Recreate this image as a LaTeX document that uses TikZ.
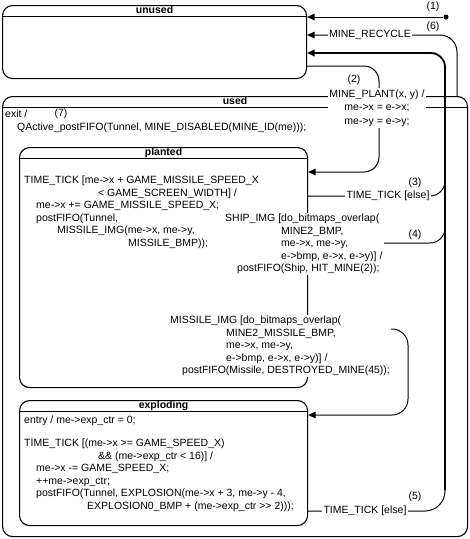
\documentclass[tikz,border=0pt]{standalone}
\usepackage{fontspec}
\setmainfont{Liberation Sans}
\usetikzlibrary{positioning,arrows.meta}

\begin{document}
\begin{tikzpicture}[x=1pt, y=-1pt, font=\fontsize{10.5}{12.5}\selectfont]
        \tikzstyle{state} = [draw, rounded corners=10pt, line width=1.1pt, inner sep=0pt, anchor=north west]
        \tikzstyle{statename} = [font=\fontsize{10.5}{12.5}\selectfont\bfseries, inner ysep=1pt, text height=7.5pt, text depth=2pt]
        \tikzstyle{body} = [anchor=north west, align=left, inner sep=0pt]
        \tikzstyle{tran} = [line width=1pt, rounded corners=15pt, -{Triangle[length=7.5pt, width=6.5pt]}]
        \tikzstyle{branch} = [line width=1pt, rounded corners=15pt]
        \tikzstyle{trig} = [fill=white, inner sep=1.5pt]
        \tikzstyle{num} = [inner sep=0pt]
        \tikzstyle{initdot} = [circle, fill, inner sep=0pt, minimum size=5pt]
        \useasboundingbox (0,0) rectangle (470,539);
        % states
        \node[state, minimum width=304pt, minimum height=73pt] (unused) at (2,5) {};
        \node[state, minimum width=465pt, minimum height=440pt] (used) at (2,96) {};
        \node[state, minimum width=288pt, minimum height=240pt] (planted) at (19,147) {};
        \node[state, minimum width=288pt, minimum height=125pt] (exploding) at (19,400) {};
        \node[statename, below=0pt of unused.north] (unusedname) {unused};
        \node[statename, below=0pt of used.north] (usedname) {used};
        \node[statename, below=0pt of planted.north] (plantedname) {planted};
        \node[statename, below=0pt of exploding.north] (explodingname) {exploding};
        \draw[line width=1.1pt] (unusedname.south -| unused.west) -- (unusedname.south -| unused.east);
        \draw[line width=1.1pt] (usedname.south -| used.west) -- (usedname.south -| used.east);
        \draw[line width=1.1pt] (plantedname.south -| planted.west) -- (plantedname.south -| planted.east);
        \draw[line width=1.1pt] (explodingname.south -| exploding.west) -- (explodingname.south -| exploding.east);
        % internal actions
        \node[body] (usedexit) at (5,110) {exit /\\[0.5pt]
            \hspace*{12pt}QActive\_postFIFO(Tunnel, MINE\_DISABLED(MINE\_ID(me)));};
        \node[body] (plantedtick) at (24,176) {TIME\_TICK [me->x + GAME\_MISSILE\_SPEED\_X\\
            \hspace*{74pt}< GAME\_SCREEN\_WIDTH] /\\
            \hspace*{12pt}me->x += GAME\_MISSILE\_SPEED\_X;\\
            \hspace*{12pt}postFIFO(Tunnel,\\
            \hspace*{33pt}MISSILE\_IMG(me->x, me->y,\\
            \hspace*{104pt}MISSILE\_BMP));};
        \node[body] (explodingtick) at (24,416) {entry / me->exp\_ctr = 0;\\[10.5pt]
            TIME\_TICK [(me->x >= GAME\_SPEED\_X)\\
            \hspace*{74pt}\&\& (me->exp\_ctr < 16)] /\\
            \hspace*{12pt}me->x -= GAME\_SPEED\_X;\\
            \hspace*{12pt}++me->exp\_ctr;\\
            \hspace*{12pt}postFIFO(Tunnel, EXPLOSION(me->x + 3, me->y - 4,\\
            \hspace*{63pt}EXPLOSION0\_BMP + (me->exp\_ctr >{}> 2)));};
        % transitions
        \node[initdot] (init) at (446,17) {};
        \draw[tran] (init) -- (init -| unused.east);
        \coordinate (recycle) at (457,96);
        \draw[tran, rounded corners=17pt] (recycle) |- (unused.east |- 0,35);
        \coordinate (trunk) at (445,490);
        \draw[tran, line width=1.8pt, rounded corners=14pt] (trunk) |- (unused.east |- 0,53);
        \draw[tran] (unused.east |- 0,66) -- (379,66) -- (379,172) -- (planted.east |- 0,172);
        \draw[branch] (planted.east |- 0,196) -| (445,180);
        \draw[branch] (planted.east |- 0,243) -| (445,227);
        \draw[branch, rounded corners=20pt] (exploding.east |- 0,511) -| (trunk);
        \draw[tran, rounded corners=16pt] (planted.east |- 0,329) -| (408,415) -- (exploding.east |- 0,415);
        % transition labels
        \node[num] (n1) at (433,7) {(1)};
        \node[num] (n2) at (354,80) {(2)};
        \node[num] (n3) at (415,183) {(3)};
        \node[num] (n4) at (415,235) {(4)};
        \node[num] (n5) at (415,497) {(5)};
        \node[num] (n6) at (433,27) {(6)};
        \node[num] (n7) at (61,114) {(7)};
        \node[trig] (recyclelbl) at (370,35) {MINE\_RECYCLE};
        \node[trig, align=center] (plantlbl) at (377,108) {MINE\_PLANT(x, y) /\\[1pt]
            me->x = e->x;\\[1pt]
            me->y = e->y;};
        \node[trig] (tick3lbl) at (388,196) {TIME\_TICK [else]};
        \node[trig, anchor=north west, align=left] (shiplbl) at (223.5,212.5) {SHIP\_IMG [do\_bitmaps\_overlap(\\
            \hspace*{56pt}MINE2\_BMP,\\
            \hspace*{56pt}me->x, me->y,\\
            \hspace*{56pt}e->bmp, e->x, e->y)] /\\
            \hspace*{12pt}postFIFO(Ship, HIT\_MINE(2));};
        \node[trig, anchor=north west, align=left] (missilelbl) at (168.5,314.5) {MISSILE\_IMG [do\_bitmaps\_overlap(\\
            \hspace*{56pt}MINE2\_MISSILE\_BMP,\\
            \hspace*{56pt}me->x, me->y,\\
            \hspace*{56pt}e->bmp, e->x, e->y)] /\\
            \hspace*{12pt}postFIFO(Missile, DESTROYED\_MINE(45));};
        \node[trig] (tick5lbl) at (365,511) {TIME\_TICK [else]};
\end{tikzpicture}
\end{document}
